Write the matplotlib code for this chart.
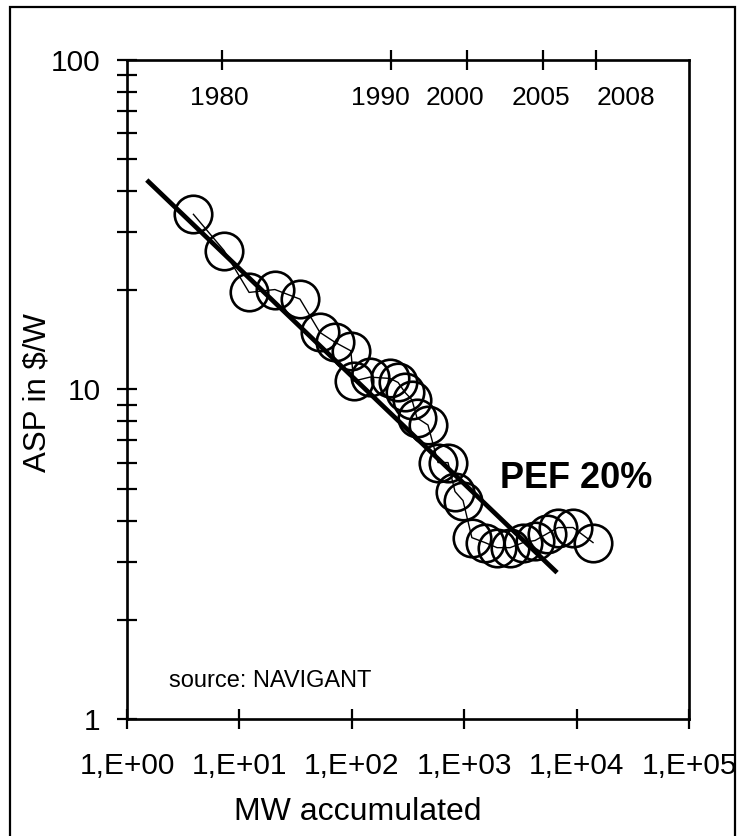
import matplotlib.pyplot as plt
import matplotlib.patches as mpatches
from matplotlib.ticker import FixedLocator, NullFormatter, NullLocator

plt.rcParams['font.family'] = ['Liberation Sans', 'DejaVu Sans']

# accumulated MW and average selling price
mw = [3.9, 7.3, 12.2, 20.7, 34.6, 52, 71, 98, 104, 145, 219, 258, 297, 343,
      380, 476, 585, 718, 828, 976, 1170, 1530, 1960, 2560, 3340, 4270,
      5460, 6840, 9290, 14000]
asp = [34.0, 26.4, 19.7, 20.1, 18.8, 14.9, 13.9, 13.1, 10.6, 10.9, 10.8,
       10.5, 9.8, 9.3, 8.2, 7.8, 6.0, 6.0, 4.9, 4.6, 3.55, 3.43, 3.31, 3.31,
       3.43, 3.48, 3.65, 3.81, 3.81, 3.43]

# experience curve (PEF 20%)
trend_mw = [1.5, 6700]
trend_asp = [43.2, 2.78]

# year markers on the top axis
year_ticks = [7, 223, 1050, 5000, 14800]
year_label_pos = [6.6, 178, 828, 4820, 27500]
year_labels = ['1980', '1990', '2000', '2005', '2008']

x_ticks = [1, 10, 100, 1000, 10000, 100000]
x_labels = ['1,E+00', '1,E+01', '1,E+02', '1,E+03', '1,E+04', '1,E+05']
y_ticks = [1, 10, 100]
y_labels = ['1', '10', '100']

fig = plt.figure(figsize=(7.37, 8.36), dpi=100)
ax = fig.add_axes([0.1723, 0.1400, 0.7626, 0.7883])

ax.plot(mw, asp, color='black', lw=1.0, marker='o', markersize=27,
        markerfacecolor='none', markeredgecolor='black', markeredgewidth=1.9)
ax.plot(trend_mw, trend_asp, color='black', lw=3.4, solid_capstyle='butt')

ax.set_xscale('log')
ax.set_yscale('log')
ax.set_xlim(1, 100000)
ax.set_ylim(1, 100)

ax.xaxis.set_major_locator(FixedLocator(x_ticks))
ax.set_xticklabels(x_labels)
ax.xaxis.set_minor_locator(NullLocator())
ax.yaxis.set_major_locator(FixedLocator(y_ticks))
ax.set_yticklabels(y_labels)
ax.yaxis.set_minor_formatter(NullFormatter())

ax.tick_params(axis='x', which='major', direction='inout', length=14, width=1.6,
               labelsize=21.5, pad=17, bottom=True, top=False)
ax.tick_params(axis='y', which='both', direction='inout', length=14, width=1.6,
               labelsize=21.5, pad=12, left=True, right=False)

for s in ax.spines.values():
    s.set_linewidth(1.9)

# top axis with the years
ax2 = ax.twiny()
ax2.set_xscale('log')
ax2.set_xlim(ax.get_xlim())
ax2.xaxis.set_major_locator(FixedLocator(year_ticks))
ax2.xaxis.set_minor_locator(NullLocator())
ax2.tick_params(axis='x', direction='inout', length=14, width=1.6, labeltop=False)
for xp, lab in zip(year_label_pos, year_labels):
    ax.text(xp, 0.942, lab, transform=ax.get_xaxis_transform(),
            ha='center', va='center', fontsize=19)

ax.text(2080, 5.35, 'PEF 20%', fontsize=26, fontweight='bold', ha='left', va='center')
ax.text(2.36, 1.30, 'source: NAVIGANT', fontsize=17, ha='left', va='center')

ax.set_xlabel('MW accumulated', fontsize=23, va='center')
ax.xaxis.set_label_coords(0.411, -0.141)
ax.set_ylabel('ASP in $/W', fontsize=22.5, va='center')
ax.yaxis.set_label_coords(-0.160, 0.496)

# frame around the whole picture
frame = mpatches.Rectangle((10 / 737, -0.01), 725 / 737, 1 - 7 / 836 + 0.01,
                           transform=fig.transFigure, fill=False,
                           edgecolor='black', lw=1.6)
fig.patches.append(frame)

fig.savefig('out.png', dpi=100)
